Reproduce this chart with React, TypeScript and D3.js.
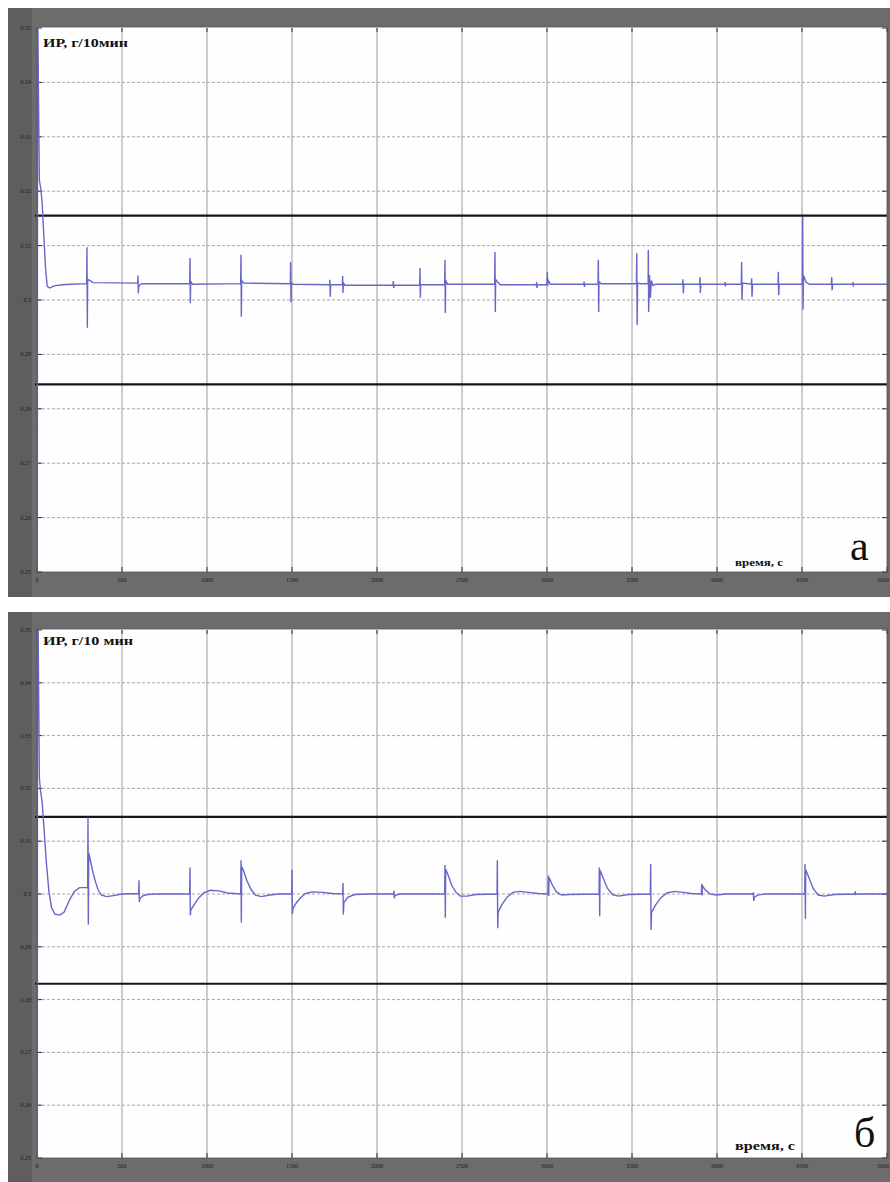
import React from 'react';
import * as d3 from 'd3';

// tick values shared by both panels
const xTicks = [0, 500, 1000, 1500, 2000, 2500, 3000, 3500, 4000, 4500, 5000];
const yTicks = [0.25, 0.26, 0.27, 0.28, 0.29, 0.3, 0.31, 0.32, 0.33, 0.34, 0.35];
const yTickLabels = ['0.25', '0.26', '0.27', '0.28', '0.29', '0.3', '0.31', '0.32', '0.33', '0.34', '0.35'];

// control limits (black horizontal lines)
const limitsA = [0.2845, 0.3155];
const limitsB = [0.283, 0.3146];

// panel а: ИР over time
const seriesA: [number, number][] = [
  [0, 0.0], [3, 0.36], [8, 0.34], [14, 0.322], [22, 0.3205], [30, 0.318], [40, 0.312], [50, 0.306], [60, 0.3025],
  [75, 0.3022], [100, 0.3026], [150, 0.3028], [200, 0.3029], [292, 0.303],
  [294, 0.3097], [296, 0.2949], [298, 0.3038], [310, 0.3036], [330, 0.3032], [592, 0.3031],
  [594, 0.3045], [596, 0.3012], [598, 0.3024], [605, 0.3028], [620, 0.303], [898, 0.303],
  [900, 0.3077], [902, 0.2994], [904, 0.3034], [915, 0.3029], [1198, 0.303],
  [1200, 0.3083], [1202, 0.2969], [1204, 0.3036], [1215, 0.3031], [1490, 0.303],
  [1492, 0.307], [1494, 0.2996], [1496, 0.3032], [1505, 0.3029], [1721, 0.3028],
  [1723, 0.3037], [1725, 0.3006], [1727, 0.3026], [1735, 0.3028], [1796, 0.3028],
  [1798, 0.3044], [1800, 0.3013], [1802, 0.3032], [1810, 0.3027], [2094, 0.3027],
  [2096, 0.3035], [2098, 0.3022], [2102, 0.3027], [2251, 0.3027],
  [2253, 0.3059], [2255, 0.3004], [2257, 0.3028], [2398, 0.3028],
  [2400, 0.3074], [2402, 0.2976], [2404, 0.3036], [2415, 0.3029], [2692, 0.3029],
  [2694, 0.3088], [2696, 0.2978], [2698, 0.3038], [2712, 0.3032], [2725, 0.3028], [2937, 0.3028],
  [2939, 0.3033], [2941, 0.3022], [2944, 0.3028], [3000, 0.3028],
  [3002, 0.3052], [3004, 0.3026], [3008, 0.3036], [3020, 0.3029], [3216, 0.3029],
  [3218, 0.3034], [3220, 0.3024], [3224, 0.3029], [3300, 0.3029],
  [3302, 0.3074], [3304, 0.2978], [3306, 0.3034], [3318, 0.303], [3526, 0.303],
  [3528, 0.3086], [3530, 0.2954], [3533, 0.3031], [3550, 0.303], [3595, 0.303],
  [3596, 0.3092], [3598, 0.2978], [3603, 0.3046], [3608, 0.3004], [3614, 0.3036], [3622, 0.3027], [3640, 0.3029], [3798, 0.3029],
  [3800, 0.3038], [3802, 0.3012], [3805, 0.3029], [3898, 0.3029],
  [3900, 0.3042], [3902, 0.3013], [3905, 0.3029], [4045, 0.3029],
  [4047, 0.3033], [4049, 0.3025], [4052, 0.3029], [4143, 0.3029],
  [4145, 0.307], [4147, 0.3], [4150, 0.3031], [4202, 0.3029],
  [4204, 0.304], [4206, 0.3006], [4209, 0.3029], [4359, 0.3029],
  [4361, 0.3052], [4363, 0.3009], [4366, 0.3029], [4502, 0.3029],
  [4504, 0.3153], [4506, 0.2982], [4509, 0.3045], [4525, 0.3032], [4545, 0.3029], [4673, 0.3029],
  [4675, 0.3042], [4677, 0.3018], [4680, 0.3029], [4798, 0.3029],
  [4800, 0.3033], [4802, 0.3027], [4805, 0.3029], [5000, 0.3029],
];

// panel б: ИР over time
const seriesB: [number, number][] = [
  [0, 0.0], [3, 0.37], [8, 0.345], [14, 0.322], [20, 0.3197], [30, 0.3175], [40, 0.313], [55, 0.306], [70, 0.3005],
  [85, 0.2975], [105, 0.2962], [135, 0.296], [160, 0.2966], [190, 0.2988], [220, 0.3005], [250, 0.3012], [298, 0.3012],
  [300, 0.3146], [302, 0.2942], [304, 0.3078], [315, 0.3062], [330, 0.304], [345, 0.3022], [360, 0.3007], [380, 0.2998],
  [410, 0.2995], [450, 0.2997], [500, 0.3], [598, 0.3001],
  [600, 0.3026], [602, 0.2985], [605, 0.2991], [620, 0.2996], [650, 0.2999], [700, 0.3], [898, 0.3],
  [900, 0.305], [902, 0.296], [905, 0.297], [925, 0.298], [950, 0.2992], [980, 0.3002], [1020, 0.3007], [1070, 0.3006],
  [1120, 0.3002], [1198, 0.3],
  [1200, 0.3064], [1202, 0.2946], [1204, 0.3052], [1215, 0.3044], [1235, 0.3025], [1260, 0.3008], [1285, 0.2998],
  [1320, 0.2995], [1370, 0.2998], [1420, 0.3], [1498, 0.3],
  [1500, 0.3046], [1502, 0.2962], [1505, 0.2972], [1525, 0.2983], [1550, 0.2993], [1580, 0.3001], [1620, 0.3004],
  [1680, 0.3003], [1740, 0.3001], [1798, 0.3],
  [1800, 0.3021], [1802, 0.2961], [1805, 0.2984], [1830, 0.2994], [1870, 0.2999], [1950, 0.3], [2098, 0.3],
  [2100, 0.3006], [2102, 0.2992], [2106, 0.2997], [2130, 0.3], [2398, 0.3],
  [2400, 0.3055], [2402, 0.2955], [2404, 0.3047], [2418, 0.3036], [2440, 0.3016], [2465, 0.3003], [2490, 0.2996],
  [2530, 0.2996], [2580, 0.2999], [2706, 0.3],
  [2708, 0.3064], [2710, 0.2935], [2713, 0.2966], [2735, 0.298], [2765, 0.2994], [2800, 0.3003], [2840, 0.3005],
  [2890, 0.3003], [2950, 0.3001], [3006, 0.3],
  [3008, 0.3035], [3010, 0.2996], [3012, 0.3031], [3030, 0.3018], [3055, 0.3004], [3085, 0.2998], [3130, 0.2999], [3306, 0.3],
  [3308, 0.305], [3310, 0.2958], [3312, 0.3045], [3328, 0.3032], [3355, 0.3011], [3385, 0.2999], [3420, 0.2996],
  [3480, 0.2999], [3608, 0.3],
  [3610, 0.3057], [3612, 0.2932], [3615, 0.2965], [3640, 0.298], [3670, 0.2993], [3705, 0.3002], [3750, 0.3005],
  [3800, 0.3003], [3850, 0.3001], [3908, 0.3],
  [3910, 0.3019], [3912, 0.2997], [3914, 0.3016], [3930, 0.3008], [3960, 0.3], [4000, 0.2998], [4050, 0.3], [4212, 0.3],
  [4214, 0.3003], [4216, 0.2987], [4220, 0.2994], [4240, 0.2998], [4280, 0.3], [4516, 0.3],
  [4518, 0.3057], [4520, 0.2953], [4522, 0.3046], [4538, 0.3033], [4565, 0.3011], [4595, 0.2998], [4630, 0.2996],
  [4690, 0.2999], [4811, 0.3],
  [4813, 0.3005], [4815, 0.2999], [4830, 0.3], [5000, 0.3],
];

const serif = '"Liberation Serif", "DejaVu Serif", serif';
const plotLeft = 37;
const plotRight = 887;

type PanelProps = {
  id: string;
  bgTop: number;
  bgBottom: number;
  plotTop: number;
  plotBottom: number;
  data: [number, number][];
  limits: number[];
  title: string;
  titleWidth: number;
  titleY: number;
  unitY: number;
  unitWidth: number;
  unitSize: number;
  letter: string;
  letterX: number;
  letterY: number;
};

const Panel = (p: PanelProps) => {
  const x = d3.scaleLinear().domain([0, 5000]).range([plotLeft, plotRight]);
  const y = d3.scaleLinear().domain([0.25, 0.35]).range([p.plotBottom, p.plotTop]);
  const line = d3.line<[number, number]>().x(d => x(d[0])).y(d => y(d[1]));
  const lastTick = xTicks[xTicks.length - 1];

  return (
    <g>
      <rect x={8} y={p.bgTop} width={882} height={p.bgBottom - p.bgTop} fill="#6c6c6c" />
      <rect x={8} y={p.bgTop} width={24} height={p.bgBottom - p.bgTop} fill="#5e5e5e" />
      <rect x={plotLeft} y={p.plotTop - 1} width={plotRight - plotLeft} height={p.plotBottom - p.plotTop + 1} fill="#fefefe" />

      {/* grid */}
      {xTicks.slice(1, -1).map(t => (
        <line key={'gx' + t} x1={x(t)} x2={x(t)} y1={p.plotTop} y2={p.plotBottom} stroke="#9c9c9c" strokeWidth={1} />
      ))}
      {yTicks.slice(1, -1).map(t => (
        <line key={'gy' + t} x1={plotLeft} x2={plotRight} y1={y(t)} y2={y(t)} stroke="#a6a6a6" strokeWidth={1} strokeDasharray="3,2" />
      ))}

      {/* ticks */}
      {xTicks.map(t => (
        <g key={'tx' + t}>
          <line x1={x(t)} x2={x(t)} y1={p.plotBottom} y2={p.plotBottom - 5} stroke="#333" />
          <line x1={x(t)} x2={x(t)} y1={p.plotTop} y2={p.plotTop + 4} stroke="#333" />
          <text x={t === lastTick ? 889 : x(t)} y={p.plotBottom + 10} fontSize={6} fontFamily={serif} fill="#1e1e1e"
            textAnchor={t === lastTick ? 'end' : 'middle'}>{t}</text>
        </g>
      ))}
      {yTicks.map((t, i) => (
        <g key={'ty' + t}>
          <line x1={plotLeft} x2={plotLeft + 5} y1={y(t)} y2={y(t)} stroke="#333" />
          <line x1={plotRight} x2={plotRight - 5} y1={y(t)} y2={y(t)} stroke="#333" />
          <text x={31} y={y(t) + 2} fontSize={6} fontFamily={serif} fill="#1e1e1e" textAnchor="end">{yTickLabels[i]}</text>
        </g>
      ))}

      {/* control limits */}
      {p.limits.map(v => (
        <line key={'l' + v} x1={plotLeft - 2} x2={plotRight} y1={y(v)} y2={y(v)} stroke="#151515" strokeWidth={2.2} />
      ))}

      <clipPath id={p.id}>
        <rect x={plotLeft - 2} y={p.plotTop - 1} width={plotRight - plotLeft + 2} height={p.plotBottom - p.plotTop + 1} />
      </clipPath>
      <path d={line(p.data) ?? ''} fill="none" stroke="#6767c9" strokeWidth={1.4} clipPath={`url(#${p.id})`} />

      <rect x={plotLeft} y={p.plotTop - 1} width={plotRight - plotLeft} height={p.plotBottom - p.plotTop + 1} fill="none" stroke="#555" strokeWidth={0.8} />

      <text x={43} y={p.titleY} fontSize={13} fontWeight="bold" fontFamily={serif} fill="#111"
        textLength={p.titleWidth} lengthAdjust="spacingAndGlyphs">{p.title}</text>
      <text x={735} y={p.unitY} fontSize={p.unitSize} fontWeight="bold" fontFamily={serif} fill="#111"
        textLength={p.unitWidth} lengthAdjust="spacingAndGlyphs">время, с</text>
      <text x={p.letterX} y={p.letterY} fontSize={42} fontFamily={serif} fill="#111">{p.letter}</text>
    </g>
  );
};

const App = () => (
  <svg width={890} height={1182} style={{ position: 'absolute', left: 0, top: 0, background: '#fff' }}>
    <Panel id="clipA" bgTop={8} bgBottom={597} plotTop={28} plotBottom={572} data={seriesA} limits={limitsA}
      title="ИР, г/10мин" titleWidth={85} titleY={47} unitY={566} unitWidth={48} unitSize={11}
      letter="а" letterX={850} letterY={560} />
    <Panel id="clipB" bgTop={612} bgBottom={1182} plotTop={630} plotBottom={1158} data={seriesB} limits={limitsB}
      title="ИР, г/10 мин" titleWidth={90} titleY={645} unitY={1150} unitWidth={60} unitSize={12}
      letter="б" letterX={854} letterY={1147} />
  </svg>
);

export default App;
